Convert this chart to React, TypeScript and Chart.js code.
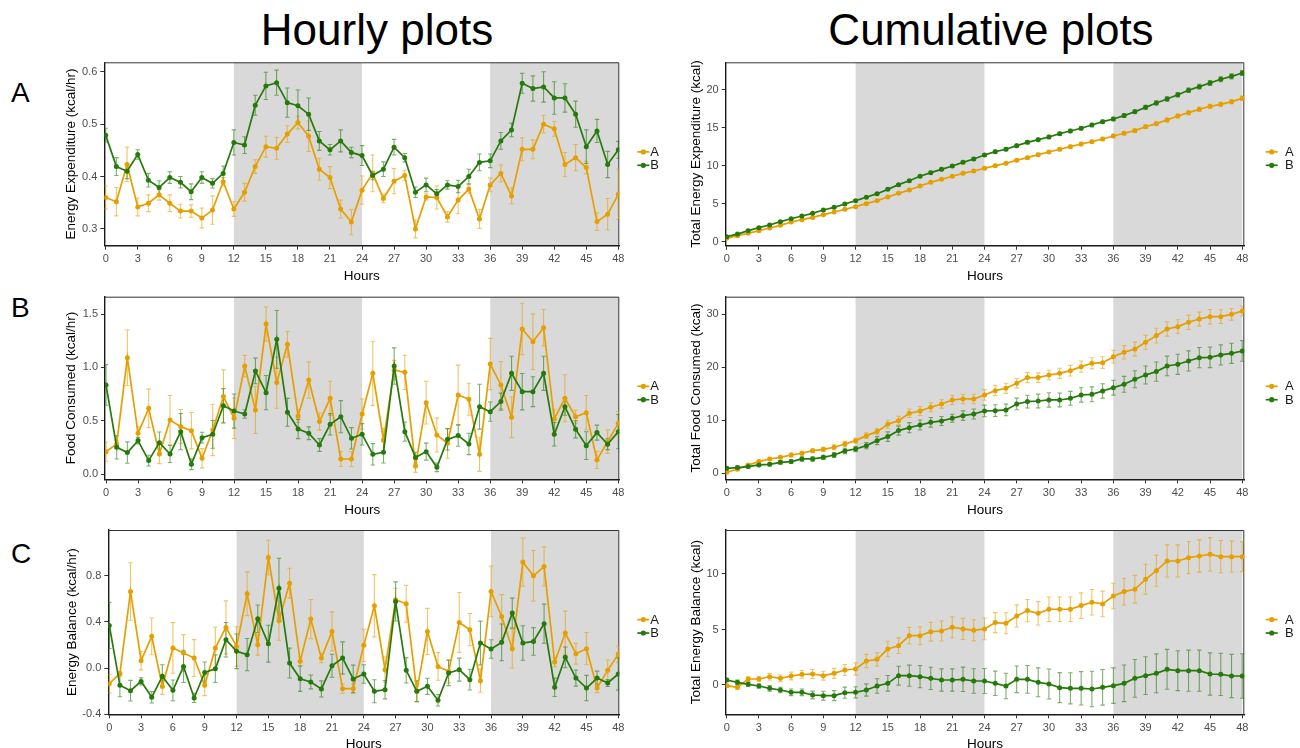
import React, { useEffect, useRef } from "react";
import { Chart, registerables } from "chart.js";

Chart.register(...registerables);

const FONT = '"Liberation Sans", Arial, Helvetica, sans-serif';
const ORANGE = "#E69F00";
const GREEN = "#267A0B";
const ORANGE_BAR = "rgba(230,159,0,0.6)";
const GREEN_BAR = "rgba(38,122,11,0.6)";
const SHADE = "#D9D9D9";

const GROUPS = ["A", "B"];
const HOURS = [
  0, 1, 2, 3, 4, 5, 6, 7, 8, 9, 10, 11, 12, 13, 14, 15, 16, 17, 18, 19, 20, 21, 22, 23, 24,
  25, 26, 27, 28, 29, 30, 31, 32, 33, 34, 35, 36, 37, 38, 39, 40, 41, 42, 43, 44, 45, 46, 47, 48,
];
const HOUR_TICKS = [0, 3, 6, 9, 12, 15, 18, 21, 24, 27, 30, 33, 36, 39, 42, 45, 48];
const DARK_PERIODS = [
  [12, 24],
  [36, 48],
];

// Hourly energy expenditure (kcal/hr), mean and SE
const EE_A = [0.36, 0.352, 0.423, 0.342, 0.349, 0.365, 0.349, 0.334, 0.334, 0.321, 0.336, 0.39, 0.338, 0.37, 0.419, 0.457, 0.454, 0.481, 0.503, 0.477, 0.414, 0.398, 0.338, 0.313, 0.374, 0.406, 0.358, 0.391, 0.402, 0.3, 0.361, 0.36, 0.323, 0.355, 0.376, 0.319, 0.384, 0.406, 0.363, 0.452, 0.452, 0.5, 0.491, 0.423, 0.436, 0.417, 0.314, 0.328, 0.366];
const EE_A_SE = [0.022, 0.027, 0.033, 0.017, 0.016, 0.01, 0.016, 0.013, 0.012, 0.019, 0.027, 0.008, 0.014, 0.017, 0.013, 0.02, 0.021, 0.016, 0.012, 0.029, 0.021, 0.021, 0.017, 0.024, 0.027, 0.035, 0.008, 0.024, 0.01, 0.017, 0.006, 0.022, 0.01, 0.026, 0.008, 0.018, 0.013, 0.016, 0.015, 0.022, 0.018, 0.017, 0.014, 0.023, 0.025, 0.012, 0.017, 0.03, 0.048];
const EE_B = [0.479, 0.419, 0.41, 0.442, 0.393, 0.379, 0.398, 0.389, 0.371, 0.398, 0.387, 0.406, 0.465, 0.46, 0.536, 0.573, 0.579, 0.541, 0.535, 0.519, 0.468, 0.451, 0.468, 0.446, 0.44, 0.402, 0.414, 0.456, 0.436, 0.37, 0.384, 0.367, 0.384, 0.381, 0.4, 0.427, 0.43, 0.468, 0.489, 0.578, 0.568, 0.571, 0.55, 0.55, 0.519, 0.457, 0.487, 0.423, 0.451];
const EE_B_SE = [0.013, 0.017, 0.014, 0.009, 0.013, 0.013, 0.011, 0.011, 0.015, 0.011, 0.009, 0.014, 0.024, 0.016, 0.019, 0.026, 0.024, 0.028, 0.03, 0.031, 0.018, 0.01, 0.021, 0.01, 0.019, 0.008, 0.014, 0.015, 0.008, 0.01, 0.013, 0.008, 0.008, 0.012, 0.014, 0.016, 0.013, 0.016, 0.013, 0.019, 0.024, 0.029, 0.031, 0.027, 0.025, 0.032, 0.022, 0.025, 0.016];

// Hourly food consumed (kcal/hr)
const FI_A = [0.212, 0.284, 1.091, 0.384, 0.617, 0.19, 0.508, 0.446, 0.408, 0.15, 0.415, 0.727, 0.524, 1.013, 0.602, 1.406, 0.858, 1.216, 0.546, 0.882, 0.493, 0.711, 0.143, 0.143, 0.564, 0.945, 0.321, 0.976, 0.954, 0.078, 0.67, 0.368, 0.29, 0.742, 0.702, 0.187, 1.032, 0.836, 0.533, 1.36, 1.241, 1.372, 0.518, 0.711, 0.539, 0.577, 0.134, 0.306, 0.477];
const FI_A_SE = [0.09, 0.03, 0.26, 0.06, 0.18, 0.09, 0.23, 0.16, 0.17, 0.09, 0.24, 0.25, 0.19, 0.1, 0.22, 0.16, 0.24, 0.12, 0.06, 0.17, 0.08, 0.16, 0.07, 0.07, 0.14, 0.3, 0.11, 0.09, 0.16, 0.06, 0.2, 0.16, 0.14, 0.28, 0.15, 0.16, 0.24, 0.22, 0.19, 0.24, 0.26, 0.17, 0.09, 0.22, 0.06, 0.16, 0.08, 0.11, 0.11];
const FI_B = [0.836, 0.253, 0.203, 0.315, 0.128, 0.296, 0.19, 0.399, 0.094, 0.343, 0.374, 0.642, 0.592, 0.564, 0.967, 0.764, 1.263, 0.58, 0.424, 0.384, 0.274, 0.468, 0.539, 0.337, 0.374, 0.187, 0.206, 1.013, 0.399, 0.156, 0.212, 0.065, 0.327, 0.362, 0.284, 0.633, 0.586, 0.68, 0.945, 0.773, 0.773, 0.945, 0.374, 0.633, 0.421, 0.268, 0.39, 0.281, 0.399];
const FI_B_SE = [0.19, 0.11, 0.1, 0.03, 0.05, 0.1, 0.08, 0.17, 0.05, 0.05, 0.13, 0.16, 0.16, 0.04, 0.12, 0.16, 0.27, 0.13, 0.09, 0.06, 0.06, 0.1, 0.15, 0.1, 0.1, 0.1, 0.1, 0.17, 0.09, 0.05, 0.08, 0.04, 0.1, 0.1, 0.1, 0.21, 0.09, 0.08, 0.16, 0.17, 0.14, 0.16, 0.11, 0.08, 0.08, 0.13, 0.07, 0.05, 0.16];

// Hourly energy balance (kcal/hr)
const EB_A = [-0.136, -0.049, 0.665, 0.064, 0.275, -0.159, 0.174, 0.13, 0.087, -0.15, 0.174, 0.353, 0.188, 0.645, 0.202, 0.96, 0.411, 0.737, 0.058, 0.425, 0.087, 0.318, -0.179, -0.179, 0.197, 0.541, -0.014, 0.593, 0.558, -0.202, 0.318, 0.014, -0.029, 0.396, 0.333, -0.11, 0.665, 0.448, 0.168, 0.92, 0.801, 0.882, 0.052, 0.304, 0.124, 0.168, -0.174, -0.02, 0.121];
const EB_A_SE = [0.08, 0.02, 0.25, 0.08, 0.16, 0.07, 0.22, 0.16, 0.16, 0.09, 0.18, 0.23, 0.17, 0.19, 0.09, 0.15, 0.17, 0.13, 0.04, 0.17, 0.04, 0.17, 0.04, 0.04, 0.14, 0.27, 0.11, 0.1, 0.16, 0.09, 0.2, 0.12, 0.1, 0.26, 0.14, 0.1, 0.22, 0.19, 0.17, 0.21, 0.22, 0.17, 0.04, 0.19, 0.09, 0.14, 0.04, 0.09, 0.07];
const EB_B = [0.37, -0.15, -0.197, -0.116, -0.254, -0.072, -0.194, 0.014, -0.26, -0.038, -0.006, 0.246, 0.145, 0.116, 0.428, 0.211, 0.694, 0.043, -0.093, -0.121, -0.182, 0.02, 0.087, -0.095, -0.052, -0.202, -0.188, 0.578, -0.02, -0.202, -0.159, -0.28, -0.043, -0.014, -0.101, 0.217, 0.165, 0.223, 0.477, 0.217, 0.231, 0.385, -0.168, 0.093, -0.087, -0.174, -0.087, -0.13, -0.052];
const EB_B_SE = [0.2, 0.1, 0.09, 0.03, 0.05, 0.1, 0.09, 0.14, 0.04, 0.09, 0.12, 0.15, 0.15, 0.14, 0.12, 0.16, 0.26, 0.13, 0.11, 0.06, 0.07, 0.1, 0.14, 0.12, 0.08, 0.1, 0.08, 0.17, 0.11, 0.09, 0.07, 0.05, 0.11, 0.1, 0.09, 0.19, 0.08, 0.16, 0.13, 0.15, 0.12, 0.17, 0.08, 0.09, 0.07, 0.11, 0.06, 0.03, 0.14];

// Cumulative energy expenditure (kcal)
const CEE_A = [0.44, 0.79, 1.1, 1.45, 1.8, 2.15, 2.59, 2.9, 3.2, 3.56, 3.91, 4.26, 4.62, 5.01, 5.41, 5.89, 6.37, 6.81, 7.34, 7.82, 8.22, 8.62, 9.01, 9.32, 9.67, 10.02, 10.33, 10.73, 11.08, 11.47, 11.82, 12.18, 12.53, 12.88, 13.19, 13.54, 13.93, 14.29, 14.64, 15.16, 15.56, 16.04, 16.57, 17.01, 17.45, 17.85, 18.11, 18.46, 18.9];
const CEE_A_SE = [0.02, 0.03, 0.04, 0.05, 0.05, 0.06, 0.07, 0.07, 0.08, 0.09, 0.09, 0.1, 0.1, 0.11, 0.12, 0.12, 0.13, 0.14, 0.14, 0.15, 0.15, 0.16, 0.16, 0.17, 0.17, 0.18, 0.18, 0.19, 0.19, 0.2, 0.2, 0.2, 0.21, 0.21, 0.22, 0.22, 0.23, 0.23, 0.24, 0.24, 0.25, 0.25, 0.26, 0.26, 0.27, 0.27, 0.28, 0.28, 0.29];
const CEE_B = [0.66, 1.0, 1.45, 1.85, 2.2, 2.64, 3.03, 3.38, 3.74, 4.18, 4.53, 4.97, 5.41, 5.85, 6.33, 6.9, 7.52, 8.04, 8.62, 9.1, 9.54, 9.98, 10.46, 10.9, 11.43, 11.87, 12.18, 12.66, 13.1, 13.45, 13.8, 14.24, 14.59, 14.95, 15.38, 15.82, 16.18, 16.62, 17.14, 17.71, 18.29, 18.81, 19.38, 19.96, 20.44, 20.92, 21.41, 21.8, 22.24];
const CEE_B_SE = [0.02, 0.03, 0.03, 0.04, 0.05, 0.05, 0.06, 0.06, 0.07, 0.08, 0.08, 0.09, 0.1, 0.11, 0.12, 0.13, 0.14, 0.15, 0.16, 0.17, 0.17, 0.18, 0.18, 0.19, 0.19, 0.2, 0.2, 0.2, 0.21, 0.21, 0.21, 0.22, 0.22, 0.22, 0.23, 0.23, 0.23, 0.24, 0.25, 0.26, 0.27, 0.28, 0.29, 0.3, 0.31, 0.32, 0.32, 0.33, 0.33];

// Cumulative food consumed (kcal)
const CFI_A = [0.19, 0.75, 1.57, 2.2, 2.7, 3.01, 3.45, 3.77, 4.27, 4.52, 4.9, 5.52, 6.15, 7.09, 7.85, 9.23, 9.92, 11.3, 11.74, 12.43, 13.06, 13.81, 14.0, 14.0, 14.75, 15.57, 16.01, 16.95, 18.02, 18.02, 18.52, 18.83, 19.33, 20.09, 20.72, 20.84, 21.97, 22.79, 23.41, 24.67, 25.93, 27.18, 27.62, 28.44, 29.06, 29.5, 29.5, 29.94, 30.57];
const CFI_A_SE = [0.15, 0.2, 0.25, 0.25, 0.3, 0.3, 0.35, 0.35, 0.35, 0.4, 0.45, 0.5, 0.5, 0.55, 0.6, 0.75, 0.8, 0.8, 0.85, 0.85, 0.8, 0.85, 0.9, 0.9, 1.0, 0.95, 0.95, 0.9, 0.95, 0.9, 0.9, 0.95, 1.0, 1.05, 1.05, 1.1, 1.2, 1.25, 1.3, 1.35, 1.4, 1.35, 1.3, 1.35, 1.3, 1.35, 1.3, 1.1, 0.95];
const CFI_B = [0.94, 1.07, 1.26, 1.57, 1.69, 2.07, 2.2, 2.7, 2.7, 3.01, 3.45, 4.21, 4.58, 5.21, 6.15, 6.91, 8.04, 8.6, 9.1, 9.6, 9.86, 10.36, 10.86, 11.17, 11.74, 11.8, 11.93, 13.06, 13.5, 13.62, 13.81, 13.81, 14.12, 14.75, 14.88, 15.51, 16.13, 16.76, 17.7, 18.52, 19.15, 20.21, 20.53, 21.16, 21.78, 21.85, 22.29, 22.6, 23.04];
const CFI_B_SE = [0.3, 0.3, 0.3, 0.3, 0.3, 0.35, 0.35, 0.4, 0.4, 0.4, 0.45, 0.5, 0.5, 0.6, 0.75, 0.9, 0.85, 0.95, 0.95, 0.9, 0.85, 0.75, 0.9, 0.95, 1.1, 1.1, 1.1, 1.1, 1.2, 1.3, 1.35, 1.3, 1.3, 1.35, 1.4, 1.35, 1.4, 1.5, 1.6, 1.7, 1.8, 1.85, 1.9, 1.9, 1.9, 1.95, 1.9, 1.9, 1.95];

// Cumulative energy balance (kcal)
const CEB_A = [-0.06, -0.21, 0.54, 0.54, 0.75, 0.6, 0.81, 0.96, 0.99, 0.84, 1.05, 1.35, 1.44, 2.16, 2.31, 3.24, 3.54, 4.44, 4.44, 4.8, 4.86, 5.2, 5.05, 4.92, 5.05, 5.62, 5.56, 6.22, 6.7, 6.46, 6.82, 6.82, 6.82, 7.15, 7.45, 7.3, 8.02, 8.41, 8.62, 9.52, 10.3, 11.17, 11.17, 11.47, 11.62, 11.77, 11.56, 11.56, 11.56];
const CEB_A_SE = [0.15, 0.2, 0.2, 0.25, 0.3, 0.3, 0.35, 0.35, 0.4, 0.4, 0.45, 0.5, 0.55, 0.6, 0.6, 0.7, 0.7, 0.75, 0.8, 0.85, 0.9, 0.95, 0.95, 0.95, 0.98, 0.9, 0.95, 1.0, 1.0, 1.05, 1.1, 1.1, 1.1, 1.15, 1.15, 1.15, 1.15, 1.2, 1.25, 1.35, 1.4, 1.45, 1.45, 1.45, 1.45, 1.5, 1.45, 1.4, 1.35];
const CEB_B = [0.45, 0.24, 0.06, -0.09, -0.3, -0.45, -0.66, -0.66, -0.9, -0.96, -0.96, -0.69, -0.66, -0.45, -0.09, 0.15, 0.84, 0.84, 0.75, 0.6, 0.45, 0.45, 0.51, 0.36, 0.36, 0.15, -0.09, 0.51, 0.51, 0.24, 0.09, -0.24, -0.3, -0.3, -0.36, -0.21, -0.06, 0.15, 0.6, 0.84, 1.05, 1.41, 1.29, 1.29, 1.29, 0.99, 0.96, 0.81, 0.81];
const CEB_B_SE = [0.15, 0.2, 0.2, 0.2, 0.25, 0.25, 0.3, 0.3, 0.35, 0.4, 0.45, 0.5, 0.5, 0.55, 0.65, 0.7, 0.85, 0.95, 1.0, 1.0, 1.0, 1.0, 1.1, 1.1, 1.13, 1.1, 1.15, 1.2, 1.25, 1.3, 1.35, 1.35, 1.4, 1.5, 1.6, 1.6, 1.6, 1.65, 1.7, 1.7, 1.75, 1.8, 1.8, 1.85, 1.85, 1.9, 1.9, 1.95, 2.0];

// Axis tick values
const EE_TICKS = [0.3, 0.4, 0.5, 0.6];
const FI_TICKS = [0, 0.5, 1.0, 1.5];
const EB_TICKS = [-0.4, 0, 0.4, 0.8];
const CEE_TICKS = [0, 5, 10, 15, 20];
const CFI_TICKS = [0, 10, 20, 30];
const CEB_TICKS = [0, 5, 10];

// Layout constants
const AXIS_W = 50;
const AXIS_H = 40;
const TITLE_SIZE = 13.5;
const TITLE_LH = TITLE_SIZE * 1.2;

interface PanelSpec {
  key: string;
  yTitle: string;
  yTicks: number[];
  digits: number;
  yMin: number;
  yMax: number;
  xMin: number;
  xMax: number;
  a: number[];
  aErr: number[];
  b: number[];
  bErr: number[];
  box: { l: number; t: number; r: number; b: number };
  canvas: { x: number; y: number; w: number; h: number };
  yTitleX: number;
  xTitleY: number;
  legMarkDX: number;
  legTextDX: number;
}

const HOURLY_CANVAS = { x: 0, w: 690, h: 240 };
const CUM_CANVAS = { x: 640, w: 660, h: 240 };

const PANELS: PanelSpec[] = [
  {
    key: "ha", yTitle: "Energy Expenditure (kcal/hr)", yTicks: EE_TICKS, digits: 1,
    yMin: 0.268, yMax: 0.618, xMin: -0.13, xMax: 48.09,
    a: EE_A, aErr: EE_A_SE, b: EE_B, bErr: EE_B_SE,
    box: { l: 104.3, t: 62.3, r: 619.3, b: 245.7 },
    canvas: { ...HOURLY_CANVAS, y: 50 }, yTitleX: 71.7, xTitleY: 276.7, legMarkDX: 24, legTextDX: 31,
  },
  {
    key: "hb", yTitle: "Food Consumed (kcal/hr)", yTicks: FI_TICKS, digits: 1,
    yMin: -0.047, yMax: 1.662, xMin: -0.094, xMax: 48.094,
    a: FI_A, aErr: FI_A_SE, b: FI_B, bErr: FI_B_SE,
    box: { l: 105, t: 296.7, r: 619.3, b: 479.3 },
    canvas: { ...HOURLY_CANVAS, y: 285 }, yTitleX: 71.7, xTitleY: 510, legMarkDX: 24, legTextDX: 31,
  },
  {
    key: "hc", yTitle: "Energy Balance (kcal/hr)", yTicks: EB_TICKS, digits: 1,
    yMin: -0.402, yMax: 1.199, xMin: -0.094, xMax: 48.094,
    a: EB_A, aErr: EB_A_SE, b: EB_B, bErr: EB_B_SE,
    box: { l: 108.3, t: 530, r: 619.3, b: 714.3 },
    canvas: { ...HOURLY_CANVAS, y: 520 }, yTitleX: 72.3, xTitleY: 744, legMarkDX: 24, legTextDX: 31,
  },
  {
    key: "ca", yTitle: "Total Energy Expenditure (kcal)", yTicks: CEE_TICKS, digits: 0,
    yMin: -0.53, yMax: 23.65, xMin: -0.093, xMax: 48.19,
    a: CEE_A, aErr: CEE_A_SE, b: CEE_B, bErr: CEE_B_SE,
    box: { l: 725.7, t: 62.3, r: 1244.3, b: 245.7 },
    canvas: { ...CUM_CANVAS, y: 50 }, yTitleX: 696.7, xTitleY: 276.7, legMarkDX: 27.4, legTextDX: 40.7,
  },
  {
    key: "cb", yTitle: "Total Food Consumed (kcal)", yTicks: CFI_TICKS, digits: 0,
    yMin: -1.13, yMax: 33.26, xMin: -0.093, xMax: 48.19,
    a: CFI_A, aErr: CFI_A_SE, b: CFI_B, bErr: CFI_B_SE,
    box: { l: 725.7, t: 296.7, r: 1244.3, b: 479.3 },
    canvas: { ...CUM_CANVAS, y: 285 }, yTitleX: 696.7, xTitleY: 510, legMarkDX: 27.4, legTextDX: 40.7,
  },
  {
    key: "cc", yTitle: "Total Energy Balance (kcal)", yTicks: CEB_TICKS, digits: 0,
    yMin: -2.64, yMax: 13.96, xMin: -0.093, xMax: 48.19,
    a: CEB_A, aErr: CEB_A_SE, b: CEB_B, bErr: CEB_B_SE,
    box: { l: 725.7, t: 530, r: 1244.3, b: 714.3 },
    canvas: { ...CUM_CANVAS, y: 520 }, yTitleX: 696.7, xTitleY: 744, legMarkDX: 27.4, legTextDX: 40.7,
  },
];

function buildChart(canvas: HTMLCanvasElement, p: PanelSpec) {
  const series = [
    { name: GROUPS[0], values: p.a, errs: p.aErr, color: ORANGE, bar: ORANGE_BAR },
    { name: GROUPS[1], values: p.b, errs: p.bErr, color: GREEN, bar: GREEN_BAR },
  ];

  const decor = {
    id: "panelDecor",
    beforeDraw(chart: any) {
      const { ctx, chartArea: ca, scales } = chart;
      const x = scales.x;
      ctx.save();
      ctx.fillStyle = SHADE;
      for (const [s, e] of DARK_PERIODS) {
        const x0 = x.getPixelForValue(s);
        const x1 = x.getPixelForValue(e);
        ctx.fillRect(x0, ca.top, x1 - x0, ca.bottom - ca.top);
      }
      ctx.restore();
    },
    beforeDatasetsDraw(chart: any) {
      const { ctx, chartArea: ca, scales } = chart;
      const x = scales.x;
      const y = scales.y;
      // panel frame (top and right edges)
      ctx.save();
      ctx.strokeStyle = "#333333";
      ctx.lineWidth = 1;
      ctx.beginPath();
      ctx.moveTo(ca.left, ca.top + 0.5);
      ctx.lineTo(ca.right - 0.5, ca.top + 0.5);
      ctx.lineTo(ca.right - 0.5, ca.bottom);
      ctx.stroke();
      // error bars
      ctx.beginPath();
      ctx.rect(ca.left, ca.top, ca.right - ca.left, ca.bottom - ca.top);
      ctx.clip();
      ctx.lineWidth = 1.1;
      for (const s of series) {
        ctx.strokeStyle = s.bar;
        ctx.beginPath();
        HOURS.forEach((h, i) => {
          const px = x.getPixelForValue(h);
          const lo = y.getPixelForValue(s.values[i] - s.errs[i]);
          const hi = y.getPixelForValue(s.values[i] + s.errs[i]);
          ctx.moveTo(px, lo);
          ctx.lineTo(px, hi);
          ctx.moveTo(px - 2.2, lo);
          ctx.lineTo(px + 2.2, lo);
          ctx.moveTo(px - 2.2, hi);
          ctx.lineTo(px + 2.2, hi);
        });
        ctx.stroke();
      }
      ctx.restore();
    },
    afterDraw(chart: any) {
      const { ctx, chartArea: ca } = chart;
      ctx.save();
      series.forEach((s, i) => {
        const yy = ca.top + 89.6 + i * 13.4;
        const xc = ca.right + p.legMarkDX;
        ctx.strokeStyle = s.color;
        ctx.lineWidth = 1.7;
        ctx.beginPath();
        ctx.moveTo(xc - 6, yy);
        ctx.lineTo(xc + 6, yy);
        ctx.stroke();
        ctx.fillStyle = s.color;
        ctx.beginPath();
        ctx.arc(xc, yy, 2.6, 0, Math.PI * 2);
        ctx.fill();
        ctx.fillStyle = "#1a1a1a";
        ctx.font = `13px ${FONT}`;
        ctx.textAlign = "left";
        ctx.textBaseline = "middle";
        ctx.fillText(s.name, ca.right + p.legTextDX, yy + 0.5);
      });
      ctx.restore();
    },
  };

  const pad = {
    left: p.box.l - p.canvas.x - AXIS_W,
    top: p.box.t - p.canvas.y,
    right: p.canvas.x + p.canvas.w - p.box.r,
    bottom: p.canvas.y + p.canvas.h - p.box.b - AXIS_H,
  };
  const yTitlePad = p.yTitleX - (p.box.l - AXIS_W) - TITLE_LH / 2;
  const xTitlePad = p.box.b + AXIS_H - p.xTitleY - TITLE_LH / 2;

  const tickFont = { family: FONT, size: 11 };
  const titleFont = { family: FONT, size: TITLE_SIZE };

  return new Chart(canvas, {
    type: "line",
    data: {
      datasets: series.map((s, i) => ({
        label: s.name,
        data: HOURS.map((h, j) => ({ x: h, y: s.values[j] })),
        borderColor: s.color,
        backgroundColor: s.color,
        pointBackgroundColor: s.color,
        pointBorderColor: s.color,
        borderWidth: 1.7,
        pointRadius: 2.5,
        pointBorderWidth: 0,
        pointHoverRadius: 2.5,
        tension: 0,
        order: i === 0 ? 1 : 0,
      })),
    },
    options: {
      animation: false,
      responsive: false,
      maintainAspectRatio: false,
      events: [],
      layout: { autoPadding: false, padding: pad },
      plugins: {
        legend: { display: false },
        tooltip: { enabled: false },
      },
      scales: {
        x: {
          type: "linear",
          min: p.xMin,
          max: p.xMax,
          bounds: "data",
          afterBuildTicks: (s: any) => {
            s.ticks = HOUR_TICKS.map((v) => ({ value: v }));
          },
          afterFit: (s: any) => {
            s.height = AXIS_H;
          },
          grid: { drawOnChartArea: false, drawTicks: true, tickLength: 4, tickColor: "#333333", tickWidth: 1 },
          border: { display: true, color: "#1a1a1a", width: 1.4 },
          ticks: {
            color: "#4D4D4D", font: tickFont, padding: 3, autoSkip: false, maxRotation: 0, minRotation: 0,
            callback: (v: any) => String(v),
          },
          title: {
            display: true, text: "Hours", color: "#000000", font: titleFont,
            padding: { top: 0, bottom: xTitlePad },
          },
        },
        y: {
          type: "linear",
          min: p.yMin,
          max: p.yMax,
          bounds: "data",
          afterBuildTicks: (s: any) => {
            s.ticks = p.yTicks.map((v) => ({ value: v }));
          },
          afterFit: (s: any) => {
            s.width = AXIS_W;
          },
          grid: { drawOnChartArea: false, drawTicks: true, tickLength: 4, tickColor: "#333333", tickWidth: 1 },
          border: { display: true, color: "#1a1a1a", width: 1.4 },
          ticks: {
            color: "#4D4D4D", font: tickFont, padding: 3, autoSkip: false,
            callback: (v: any) => Number(v).toFixed(p.digits),
          },
          title: {
            display: true, text: p.yTitle, color: "#000000", font: titleFont,
            padding: { top: yTitlePad, bottom: 0 },
          },
        },
      },
    },
    plugins: [decor],
  } as any);
}

function Panel({ spec }: { spec: PanelSpec }) {
  const ref = useRef<HTMLCanvasElement>(null);
  useEffect(() => {
    if (!ref.current) return;
    const chart = buildChart(ref.current, spec);
    return () => chart.destroy();
  }, [spec]);
  const { x, y, w, h } = spec.canvas;
  return (
    <canvas
      ref={ref}
      width={w}
      height={h}
      style={{ position: "absolute", left: x, top: y, width: w, height: h }}
    />
  );
}

const HEADINGS = [
  { text: "Hourly plots", cx: 377 },
  { text: "Cumulative plots", cx: 991 },
];
const ROW_LETTERS = [
  { text: "A", baseline: 103 },
  { text: "B", baseline: 318 },
  { text: "C", baseline: 564 },
];

export default function App() {
  return (
    <div
      style={{
        position: "absolute",
        left: 0,
        top: 0,
        width: 1300,
        height: 748,
        overflow: "hidden",
        background: "#ffffff",
        fontFamily: FONT,
        color: "#000000",
      }}
    >
      {HEADINGS.map((hd) => (
        <div
          key={hd.text}
          style={{
            position: "absolute",
            left: hd.cx,
            top: 45 - 37.25,
            transform: "translateX(-50%)",
            fontSize: 44,
            lineHeight: "44px",
            whiteSpace: "nowrap",
          }}
        >
          {hd.text}
        </div>
      ))}
      {ROW_LETTERS.map((r) => (
        <div
          key={r.text}
          style={{
            position: "absolute",
            left: 11,
            top: r.baseline - 23.7,
            fontSize: 28,
            lineHeight: "28px",
          }}
        >
          {r.text}
        </div>
      ))}
      {PANELS.map((p) => (
        <Panel key={p.key} spec={p} />
      ))}
    </div>
  );
}
